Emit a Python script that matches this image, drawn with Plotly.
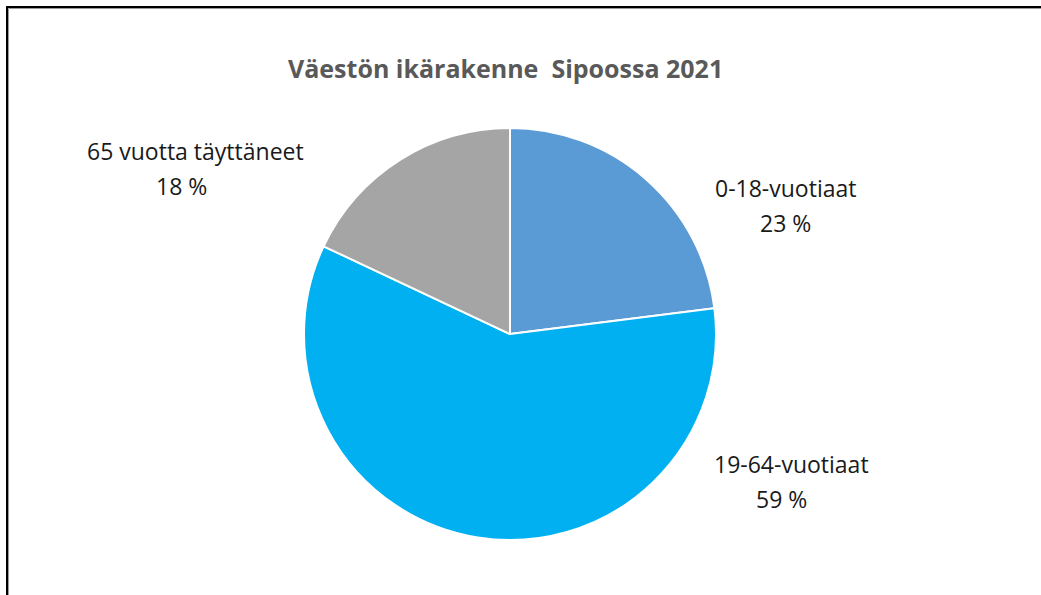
import plotly.graph_objects as go

# data
categories = ["0-18-vuotiaat", "19-64-vuotiaat", "65 vuotta täyttäneet"]
shares = [23, 59, 18]
colors = ["#5B9BD5", "#00B0F0", "#A5A5A5"]
title_text = "Väestön ikärakenne  Sipoossa 2021"

W, H = 1041, 595

def px(x):
    return x / W

def py(y):
    return 1 - y / H

# pie: centre (510, 334), radius ~206 px
fig = go.Figure(go.Pie(
    labels=categories,
    values=shares,
    marker=dict(colors=colors, line=dict(color="white", width=2)),
    sort=False,
    direction="clockwise",
    rotation=0,
    textinfo="none",
    hoverinfo="label+percent",
    showlegend=False,
    domain=dict(x=[px(304), px(716)], y=[py(540), py(128)]),
))

# label placement in px: (x name, y name, x value), value line 35 px lower
label_pos = [(785, 188, 785), (791, 464, 781), (195, 151, 181)]
font_family = "'Open Sans', Lato, sans-serif"
for name, val, (lx, ly, vx) in zip(categories, shares, label_pos):
    for txt, x, y in [(name, lx, ly), (f"{val} %", vx, ly + 35)]:
        fig.add_annotation(
            x=px(x), y=py(y), xref="paper", yref="paper",
            xanchor="center", yanchor="middle",
            text=txt, showarrow=False,
            font=dict(family=font_family, size=23, color="#1a1a1a"),
        )

fig.add_annotation(
    x=px(505), y=py(68), xref="paper", yref="paper",
    xanchor="center", yanchor="middle",
    text=f"<b>{title_text}</b>", showarrow=False,
    font=dict(family=font_family, size=25, color="#595959"),
)

# frame: black top/left edges with a thin grey shadow
fig.add_shape(type="path", xref="paper", yref="paper",
              path=f"M {px(8.5)} 0 L {px(8.5)} {py(8.5)} L 1 {py(8.5)}",
              line=dict(color="#9a9a9a", width=1))
fig.add_shape(type="path", xref="paper", yref="paper",
              path=f"M {px(7)} 0 L {px(7)} {py(7)} L 1 {py(7)}",
              line=dict(color="black", width=2))

fig.update_layout(
    width=W, height=H,
    margin=dict(l=0, r=0, t=0, b=0),
    paper_bgcolor="white",
    plot_bgcolor="white",
)

fig.write_html("out.html", config={"displayModeBar": False},
               post_script="document.body.style.margin='0';document.body.style.overflow='hidden';")
